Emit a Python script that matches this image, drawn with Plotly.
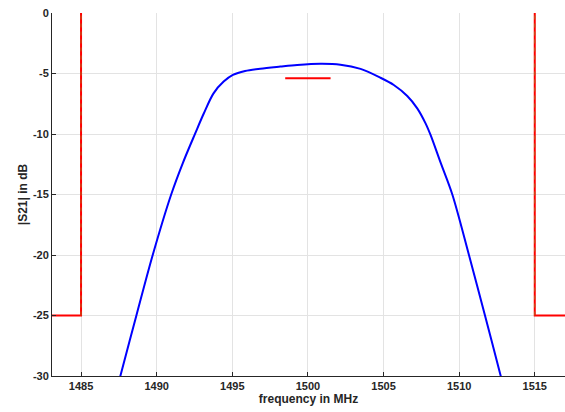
import plotly.graph_objects as go

freq = [1487.4, 1487.6, 1488.66, 1489.74, 1490.96, 1491.73, 1492.55, 1493.1, 1493.76, 1494.43,
        1495.04, 1495.85, 1496.85, 1498.18, 1499.29, 1500.83, 1502.15, 1503.48, 1504.8,
        1505.68, 1506.57, 1507.23, 1507.78, 1508.11, 1508.77, 1509.55, 1510.65, 1511.71,
        1512.75, 1513.0]
s21 = [-31.0, -30.0, -25.0, -20.0, -15.0, -12.4, -9.95, -8.35, -6.64, -5.67,
       -5.12, -4.79, -4.6, -4.43, -4.3, -4.2, -4.27, -4.62, -5.35,
       -5.95, -6.86, -7.88, -9.12, -10.08, -12.35, -15.0, -20.0, -25.0,
       -30.0, -31.2]

mask_left_x = [1483, 1485, 1485]
mask_left_y = [-25, -25, 0]
mask_right_x = [1517, 1515, 1515]
mask_right_y = [-25, -25, 0]
spec_x = [1498.5, 1501.5]
spec_y = [-5.4, -5.4]

xticks = [1485, 1490, 1495, 1500, 1505, 1510, 1515]
yticks = [0, -5, -10, -15, -20, -25, -30]
yticklabels = ["0", "-5", "-10", "-15", "-20", "-25", "-30"]

fig = go.Figure()
fig.add_trace(go.Scatter(x=freq, y=s21, mode="lines",
                         line=dict(color="#0000ff", width=2, shape="spline", smoothing=0.9)))
for mx, my in [(mask_left_x, mask_left_y), (mask_right_x, mask_right_y)]:
    fig.add_trace(go.Scatter(x=mx, y=my, mode="lines", line=dict(color="#ff0000", width=2)))
    fig.add_trace(go.Scatter(x=mx[1:], y=my[1:], mode="lines",
                             line=dict(color="#b8601e", width=1, dash="4px,4px")))
fig.add_trace(go.Scatter(x=spec_x, y=spec_y, mode="lines", line=dict(color="#ff0000", width=2)))

fig.update_layout(
    width=565, height=412, showlegend=False,
    plot_bgcolor="white", paper_bgcolor="white",
    margin=dict(l=52, r=0, t=13, b=36, autoexpand=False),
    font=dict(family="Liberation Sans", color="#262626"),
    xaxis=dict(range=[1483.08, 1517.0], tickvals=xticks, ticks="inside", ticklen=4,
               tickcolor="#262626", showline=True, linecolor="#262626", linewidth=1,
               showgrid=True, gridcolor="#e3e3e3", zeroline=False, automargin=False,
               tickfont=dict(family="Liberation Sans", size=11, color="#262626", weight="bold"),
               title=dict(text="<b>frequency in MHz</b>", font=dict(size=12, color="#262626"), standoff=2)),
    yaxis=dict(range=[-30, 0], tickvals=yticks, ticktext=yticklabels, ticks="inside", ticklen=4,
               tickcolor="#262626", showline=True, linecolor="#262626", linewidth=1,
               showgrid=True, gridcolor="#e3e3e3", zeroline=False, automargin=False,
               tickfont=dict(family="Liberation Sans", size=11, color="#262626", weight="bold"),
               title=dict(text="<b>|S21| in dB</b>", font=dict(size=12, color="#262626"), standoff=2)),
)
fig.write_html("out.html", config={"displayModeBar": False},
               post_script="document.body.style.margin='0';document.body.style.overflow='hidden';")
